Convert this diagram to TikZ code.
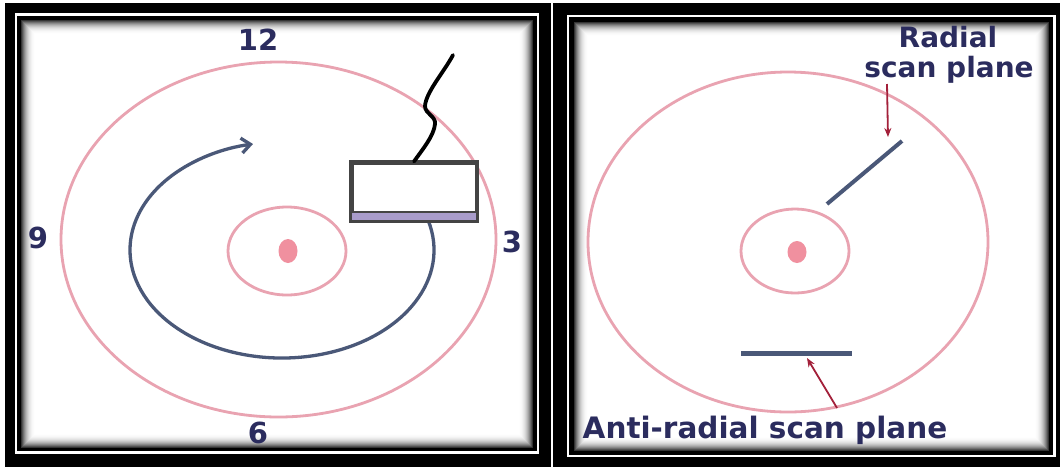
\documentclass[tikz,border=0pt]{standalone}
\usepackage{fontspec}
\setmainfont{DejaVu Sans}
\usetikzlibrary{arrows.meta}
\definecolor{pinkc}{HTML}{E9A3B1}
\definecolor{dotc}{HTML}{F0909F}
\definecolor{spiralc}{HTML}{4A5878}
\definecolor{navy}{HTML}{2B2C5E}
\definecolor{boxedge}{HTML}{444444}
\definecolor{bandc}{HTML}{A99CCB}
\definecolor{redarr}{HTML}{A3203A}
\tikzset{
  pinkline/.style={draw=pinkc, line width=2.8pt},
  dotstyle/.style={fill=dotc, draw=none},
  scanline/.style={draw=spiralc, line width=4pt},
  redarrow/.style={draw=redarr, line width=1.8pt, -{Stealth[length=9pt,width=7pt]}},
  lbl/.style={text=navy, font=\fontsize{29}{29}\selectfont\bfseries, inner sep=0pt},
  frameline/.style={draw=white, line width=2.2pt},
}
\begin{document}
\begin{tikzpicture}[x=1pt,y=-1pt]
\useasboundingbox (0,0) rectangle (1060,467);
\fill[white] (0,0) rectangle (1060,467);
% panel backgrounds
\fill[black] (5,3) rectangle (551,467);
\fill[black] (553,3) rectangle (1060,467);
\draw[frameline] (16,14.5) rectangle (538,452.5);
\draw[frameline] (568,16) rectangle (1054.5,456);
\fill[white] (21,20) rectangle (533,448);
\fill[white] (574,22) rectangle (1049,451);
\foreach \i [evaluate=\i as \p using {80*(1-\i/15)^2.5}] in {0,...,14} {
  \draw[line width=1.05pt, color=black!\p] (21+\i+0.5,20+\i+0.5) rectangle (533-\i-0.5,448-\i-0.5);
  \draw[line width=1.05pt, color=black!\p] (574+\i+0.5,22+\i+0.5) rectangle (1049-\i-0.5,451-\i-0.5);
}
% ---------- left panel ----------
\draw[pinkline] (278.5,239.5) ellipse [x radius=217.5, y radius=177.5];
\draw[pinkline] (287,251) ellipse [x radius=59, y radius=44];
\fill[dotstyle] (288,251) ellipse [x radius=9.5, y radius=12];
% spiral
\draw[draw=spiralc, line width=3.3pt, -{Straight Barb[length=9pt,width=15pt]}]
  (282,250) ++(-16:152 and 108) arc[start angle=-16, end angle=259, x radius=152, y radius=108];
% probe
\node[draw=boxedge, line width=3pt, fill=white, minimum width=124pt, minimum height=57pt, inner sep=0pt] (box) at (414,191.5) {};
\fill[bandc] ([xshift=1.5pt,yshift=1.5pt]box.south west) rectangle ([xshift=-1.5pt,yshift=9.5pt]box.south east);
\draw[boxedge, line width=2.8pt] ([xshift=1.5pt,yshift=9.5pt]box.south west) -- ([xshift=-1.5pt,yshift=9.5pt]box.south east);
\draw[boxedge, line width=3pt] (box.south west) rectangle (box.north east);
\coordinate (cableend) at (453,55);
\draw[black, line width=3.8pt, line cap=round]
  (box.north) .. controls (422,150) and (434,136) .. (435,124)
  .. controls (436,116) and (425,114) .. (425,106)
  .. controls (426,92) and (444,72) .. (cableend);
% clock labels
\node[lbl] (n12) at (258,40) {12};
\node[lbl] (n9) at (38,238) {9};
\node[lbl] (n3) at (512,242) {3};
\node[lbl] (n6) at (258,433) {6};
% ---------- right panel ----------
\draw[pinkline] (788,242) ellipse [x radius=200, y radius=170];
\draw[pinkline] (795,251) ellipse [x radius=54, y radius=42];
\fill[dotstyle] (797,252) ellipse [x radius=9.5, y radius=11];
\coordinate (ra) at (827,204);
\coordinate (rb) at (902,141);
\draw[scanline] (ra) -- (rb);
\coordinate (aa) at (741,353);
\coordinate (ab) at (852,353);
\draw[scanline, line width=5pt] (aa) -- (ab);
\node[lbl, font=\fontsize{28}{28}\selectfont\bfseries] (radial) at (948,37) {Radial};
\node[lbl, font=\fontsize{28}{28}\selectfont\bfseries] (scanplane) at (949,70) {scan plane};
\node[lbl, font=\fontsize{29.5}{29.5}\selectfont\bfseries] (anti) at (765,430) {Anti-radial scan plane};
\coordinate (rtip) at (888,137);
\coordinate (rstart) at (887,84);
\draw[redarrow] (rstart) -- (rtip);
\coordinate (atip) at (807,358);
\coordinate (astart) at (837,408);
\draw[redarrow] (astart) -- (atip);
\end{tikzpicture}
\end{document}
